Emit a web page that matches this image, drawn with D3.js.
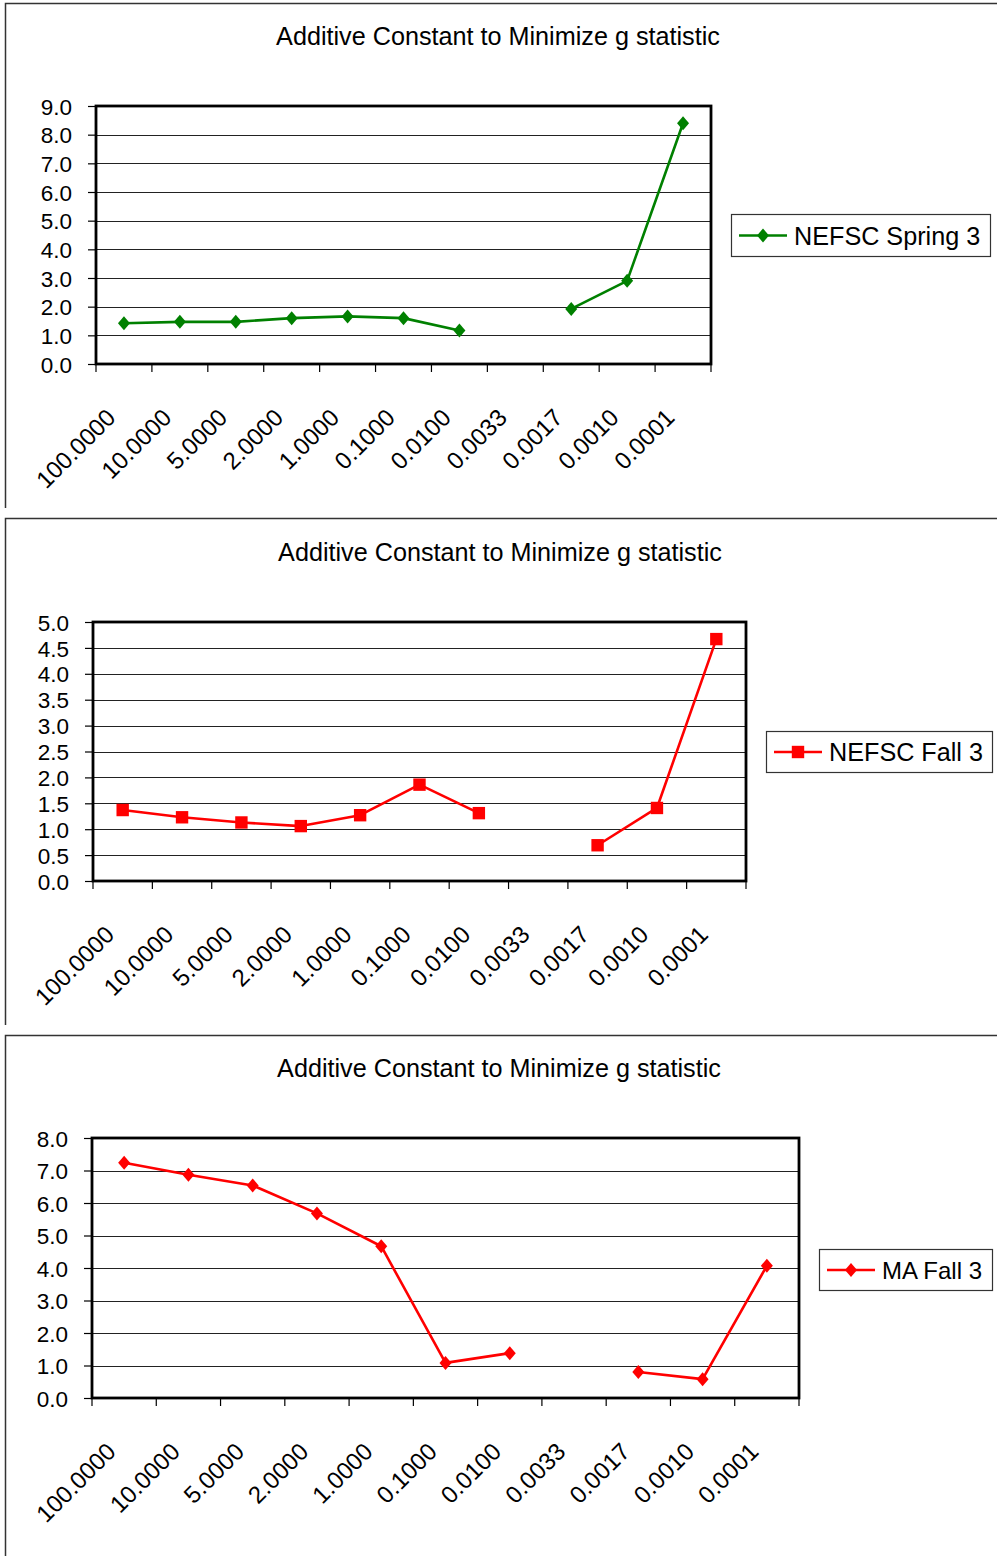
<!DOCTYPE html>
<html>
<head>
<meta charset="utf-8">
<script src="https://cdn.jsdelivr.net/npm/d3@7"></script>
<style>
  html, body { margin: 0; padding: 0; background: #fff; }
  svg { display: block; }
  text { font-family: "Liberation Sans", Arial, sans-serif; fill: #000; }
</style>
</head>
<body>
<svg id="chart" width="997" height="1556"></svg>
<script>
// Additive constants tried (x categories)
const categories = ["100.0000", "10.0000", "5.0000", "2.0000", "1.0000", "0.1000",
                    "0.0100", "0.0033", "0.0017", "0.0010", "0.0001"];

// g statistic for each additive constant (null = no value)
const springValues = [1.42, 1.47, 1.47, 1.6, 1.66, 1.6, 1.17, null, 1.92, 2.9, 8.4];
const fallValues   = [1.37, 1.23, 1.13, 1.06, 1.27, 1.86, 1.31, null, 0.69, 1.41, 4.67];
const maFallValues = [7.24, 6.87, 6.54, 5.68, 4.67, 1.08, 1.38, null, 0.8, 0.58, 4.07];

// Y tick labels per chart
const springTicks = [0, 1, 2, 3, 4, 5, 6, 7, 8, 9];
const fallTicks   = [0, 0.5, 1, 1.5, 2, 2.5, 3, 3.5, 4, 4.5, 5];
const maFallTicks = [0, 1, 2, 3, 4, 5, 6, 7, 8];

const titleText = "Additive Constant to Minimize g statistic";

const svg = d3.select("#chart");

// Layout of each stacked chart object
const panels = [
  { name: "NEFSC Spring 3", values: springValues, ticks: springTicks, color: "#008000", marker: "diamond",
    top: 3, bottom: 508, titleY: 45, titleX: 498,
    plot: { x0: 96, x1: 711, y0: 106, y1: 364 },
    legend: { x: 731, y: 214, w: 259, h: 42, font: 25.2 } },
  { name: "NEFSC Fall 3", values: fallValues, ticks: fallTicks, color: "#FF0000", marker: "square",
    top: 518, bottom: 1025, titleY: 561, titleX: 500,
    plot: { x0: 93, x1: 746, y0: 622, y1: 881 },
    legend: { x: 766, y: 731, w: 226, h: 41, font: 25.2 } },
  { name: "MA Fall 3", values: maFallValues, ticks: maFallTicks, color: "#FF0000", marker: "diamond",
    top: 1035, bottom: 1556, titleY: 1077, titleX: 499,
    plot: { x0: 92, x1: 799, y0: 1138, y1: 1398 },
    legend: { x: 819, y: 1249, w: 173, h: 41, font: 24 } }
];

function markerPath(type) {
  if (type === "square") {
    const s = 6.2;
    return `M${-s},${-s}H${s}V${s}H${-s}Z`;
  }
  const w = 6, h = 7;
  return `M0,${-h}L${w},0L0,${h}L${-w},0Z`;
}

panels.forEach(p => {
  const g = svg.append("g");

  // chart object frame (top and left edges)
  g.append("path")
    .attr("d", `M5.5,${p.bottom}V${p.top + 0.5}H997`)
    .attr("fill", "none")
    .attr("stroke", "#333")
    .attr("stroke-width", 1.5);

  // title
  g.append("text")
    .attr("x", p.titleX)
    .attr("y", p.titleY)
    .attr("text-anchor", "middle")
    .style("font-size", "25.2px")
    .text(titleText);

  const x = d3.scaleBand().domain(categories).range([p.plot.x0, p.plot.x1]);
  const y = d3.scaleLinear()
    .domain([0, d3.max(p.ticks)])
    .range([p.plot.y1, p.plot.y0]);

  // horizontal gridlines
  g.append("g")
    .selectAll("line")
    .data(p.ticks)
    .join("line")
    .attr("x1", p.plot.x0)
    .attr("x2", p.plot.x1)
    .attr("y1", d => Math.round(y(d)) + 0.5)
    .attr("y2", d => Math.round(y(d)) + 0.5)
    .attr("stroke", "#222")
    .attr("stroke-width", 1.2);

  // y axis
  const yAxis = g.append("g")
    .attr("transform", `translate(${p.plot.x0},0)`)
    .call(d3.axisLeft(y).tickValues(p.ticks).tickFormat(d3.format(".1f")).tickSize(8).tickPadding(16));
  yAxis.select(".domain").remove();
  yAxis.selectAll("line").attr("stroke", "#000").attr("stroke-width", 1.2);
  yAxis.selectAll("text").style("font-size", "22.5px").attr("dy", "0.36em");

  // x axis ticks at category boundaries
  const bounds = categories.map(c => x(c)).concat([p.plot.x1]);
  g.append("g")
    .selectAll("line")
    .data(bounds)
    .join("line")
    .attr("x1", d => d)
    .attr("x2", d => d)
    .attr("y1", p.plot.y1)
    .attr("y2", p.plot.y1 + 8)
    .attr("stroke", "#000")
    .attr("stroke-width", 1.2);

  // rotated category labels
  g.append("g")
    .selectAll("text")
    .data(categories)
    .join("text")
    .attr("transform", d => `translate(${x(d) + x.bandwidth() / 2 - 7},${p.plot.y1 + 55}) rotate(-45)`)
    .attr("text-anchor", "end")
    .style("font-size", "24px")
    .text(d => d);

  // plot area border
  g.append("rect")
    .attr("x", p.plot.x0)
    .attr("y", p.plot.y0)
    .attr("width", p.plot.x1 - p.plot.x0)
    .attr("height", p.plot.y1 - p.plot.y0)
    .attr("fill", "none")
    .attr("stroke", "#000")
    .attr("stroke-width", 2.8);

  // series line, broken where no value
  const pts = p.values.map((v, i) => ({ c: categories[i], v }));
  const line = d3.line()
    .defined(d => d.v != null)
    .x(d => x(d.c) + x.bandwidth() / 2)
    .y(d => y(d.v));
  g.append("path")
    .datum(pts)
    .attr("d", line)
    .attr("fill", "none")
    .attr("stroke", p.color)
    .attr("stroke-width", 2.6)
    .attr("stroke-linejoin", "round");

  g.append("g")
    .selectAll("path")
    .data(pts.filter(d => d.v != null))
    .join("path")
    .attr("transform", d => `translate(${x(d.c) + x.bandwidth() / 2},${y(d.v)})`)
    .attr("d", markerPath(p.marker))
    .attr("fill", p.color);

  // legend
  const L = p.legend;
  const lg = g.append("g").attr("transform", `translate(${L.x},${L.y})`);
  lg.append("rect")
    .attr("x", 0.5).attr("y", 0.5)
    .attr("width", L.w).attr("height", L.h)
    .attr("fill", "#fff")
    .attr("stroke", "#333")
    .attr("stroke-width", 1.2);
  const cy = L.h / 2 + 0.5;
  lg.append("line")
    .attr("x1", 8).attr("x2", 56)
    .attr("y1", cy).attr("y2", cy)
    .attr("stroke", p.color)
    .attr("stroke-width", 2.6);
  lg.append("path")
    .attr("transform", `translate(32,${cy})`)
    .attr("d", markerPath(p.marker))
    .attr("fill", p.color);
  lg.append("text")
    .attr("x", 63)
    .attr("y", cy)
    .attr("dy", "0.36em")
    .style("font-size", L.font + "px")
    .text(p.name);
});
</script>
</body>
</html>
